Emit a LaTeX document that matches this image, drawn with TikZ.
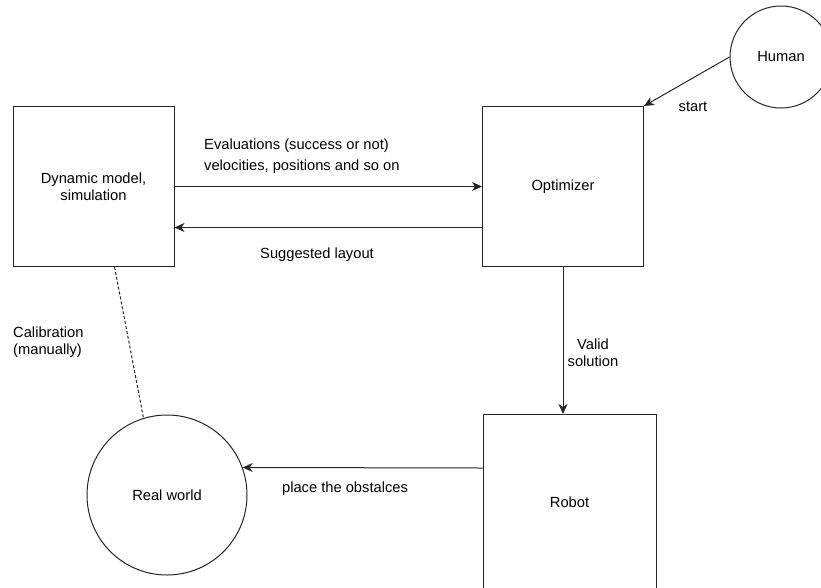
\documentclass[tikz,border=0pt]{standalone}
\usepackage{fontspec}
\setmainfont{Liberation Sans}
\usetikzlibrary{arrows.meta,positioning,calc}
\newcommand\dmfont{\fontsize{14.7}{17}\selectfont}
\tikzset{
  dmbox/.style={
    rectangle, draw=black!85, fill=white, line width=1pt,
    inner sep=2pt, font=\dmfont, align=center
  },
  dmround/.style={
    circle, draw=black!85, fill=white, line width=1pt,
    inner sep=2pt, font=\dmfont, align=center
  },
  dmedge/.style={-{Stealth[length=10pt,width=9pt,inset=3pt]},line width=1pt,draw=black!85},
  dmcalib/.style={dash pattern=on 3pt off 2pt,line width=1pt,draw=black!85},
  dmlabel/.style={font=\dmfont,inner sep=1pt}
}

\begin{document}
\begin{tikzpicture}[x=1pt,y=-1pt]
\useasboundingbox (0,0) rectangle (821,587);
% Blocks of the loop
\node[dmbox,minimum width=161pt,minimum height=160pt] (dyn) at (93.5,186.5) {Dynamic model,\\simulation};
\node[dmbox,minimum width=161pt,minimum height=160pt] (opt) at (563,186.5) {Optimizer};
\node[dmbox,minimum width=173pt,minimum height=175pt] (robot) at (569.5,502) {Robot};
\node[dmround,minimum size=102pt] (human) at (781,57) {Human};
\node[dmround,minimum size=160pt] (real) at (167,495) {Real world};

% Connectors
\draw[dmedge] (human.west) -- (opt.north east);
\node[dmlabel] at (693,107) {start};
\draw[dmedge] (dyn.east) -- (opt.west);
\node[dmlabel,anchor=west,align=left] at (203,156) {Evaluations (success or not)\\[4pt]velocities, positions and so on};
\draw[dmedge] ([yshift=-41pt]opt.west) -- ([yshift=-41pt]dyn.east);
\node[dmlabel] at (317,255) {Suggested layout};
\draw[dmedge] (opt.south) -- (opt.south |- robot.north);
\node[dmlabel,align=center] at (593,353) {Valid\\solution};
\draw[dmedge] ([yshift=34pt]robot.west) -- (real.20);
\node[dmlabel] at (345,489) {place the obstalces};
\draw[dmcalib] ($(dyn.south west)!0.63!(dyn.south east)$) -- (real.107);
\node[dmlabel,anchor=west,align=left] at (12,342) {Calibration\\(manually)};
\end{tikzpicture}
\end{document}
